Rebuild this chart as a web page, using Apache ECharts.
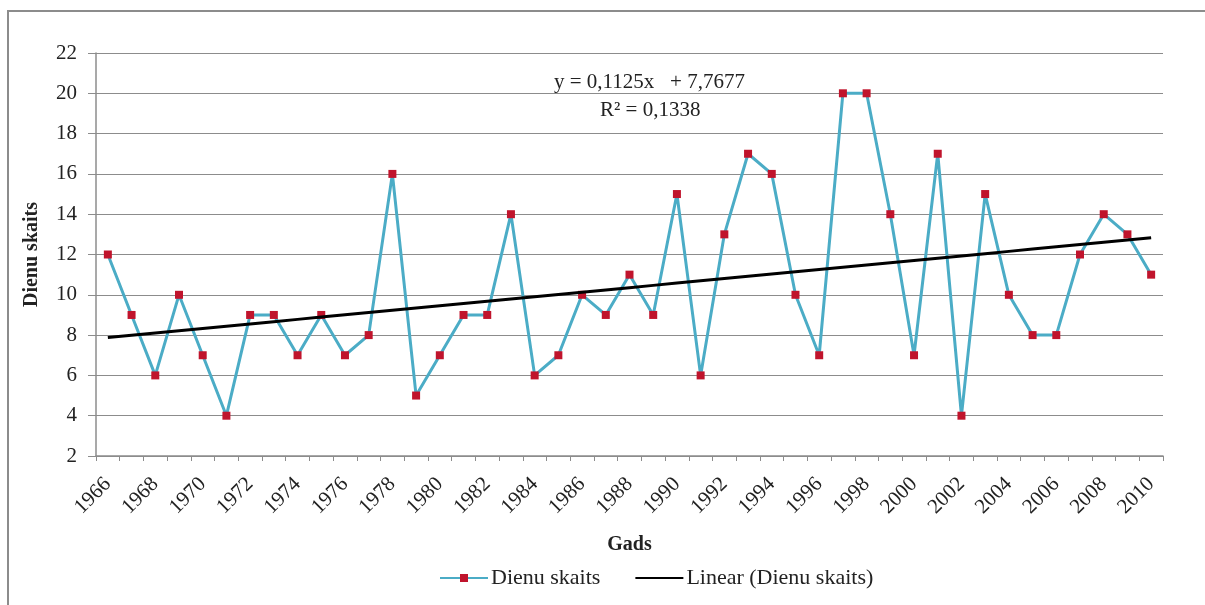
<!DOCTYPE html>
<html>
<head>
<meta charset="utf-8">
<script src="https://cdn.jsdelivr.net/npm/echarts@6/dist/echarts.min.js"></script>
<style>
  html, body { margin: 0; padding: 0; background: #fff; }
  #frame { position: absolute; left: 7px; top: 10px; width: 1198px; height: 595px;
           border-left: 2px solid #8c8c8c; border-top: 2px solid #8c8c8c; box-sizing: border-box; }
  #chart { position: absolute; left: 0; top: 0; width: 1205px; height: 605px; }
</style>
</head>
<body>
<div id="frame"></div>
<div id="chart"></div>
<script>
var years = [];
for (var y = 1966; y <= 2010; y++) { years.push(String(y)); }

var dienuSkaits = [12, 9, 6, 10, 7, 4, 9, 9, 7, 9,
                   7, 8, 16, 5, 7, 9, 9, 14, 6, 7,
                   10, 9, 11, 9, 15, 6, 13, 17, 16, 10,
                   7, 20, 20, 14, 7, 17, 4, 15, 10, 8,
                   8, 12, 14, 13, 11];

// trend line coefficients as printed on the chart
var slope = 0.1125;
var intercept = 7.7677;
var trend = dienuSkaits.map(function (v, i) { return +(slope * (i + 1) + intercept).toFixed(4); });

var font = 'Liberation Serif';
var chart = echarts.init(document.getElementById('chart'));

chart.setOption({
  animation: false,
  textStyle: { fontFamily: font },
  grid: { left: 96, right: 42, top: 53, bottom: 149, containLabel: false },
  graphic: [
    { type: 'text', left: 554, top: 72,
      style: { text: 'y = 0,1125x   + 7,7677', font: '21px "Liberation Serif"', fill: '#222' } },
    { type: 'text', left: 600, top: 100,
      style: { text: 'R² = 0,1338', font: '21px "Liberation Serif"', fill: '#222' } }
  ],
  legend: {
    bottom: 11, left: 434,
    itemWidth: 48, itemHeight: 10, itemGap: 34,
    textStyle: { fontFamily: font, fontSize: 22, color: '#222', padding: [0, 0, 0, -2] },
    data: [
      { name: 'Dienu skaits' },
      { name: 'Linear (Dienu skaits)', itemStyle: { opacity: 0 } }
    ]
  },
  xAxis: {
    type: 'category',
    data: years,
    boundaryGap: true,
    name: 'Gads',
    nameLocation: 'middle',
    nameGap: 79,
    nameTextStyle: { fontFamily: font, fontSize: 20, fontWeight: 'bold', color: '#222' },
    axisLine: { lineStyle: { color: '#8c8c8c', width: 1.5 } },
    axisTick: { show: true, length: 5, interval: 0, alignWithLabel: false, lineStyle: { color: '#8c8c8c' } },
    axisLabel: { interval: 1, rotate: 45, fontFamily: font, fontSize: 21, color: '#222', margin: 25 },
    splitLine: { show: false }
  },
  yAxis: {
    type: 'value',
    min: 2, max: 22, interval: 2,
    name: 'Dienu skaits',
    nameLocation: 'middle',
    nameGap: 54,
    nameTextStyle: { fontFamily: font, fontSize: 20, fontWeight: 'bold', color: '#222' },
    axisLine: { show: true, lineStyle: { color: '#8c8c8c', width: 1.5 } },
    axisTick: { show: true, length: 8, lineStyle: { color: '#8c8c8c' } },
    axisLabel: { fontFamily: font, fontSize: 21, color: '#222', margin: 19 },
    splitLine: { lineStyle: { color: '#8c8c8c', width: 1.2 } }
  },
  series: [
    {
      name: 'Dienu skaits',
      type: 'line',
      data: dienuSkaits,
      symbol: 'rect',
      symbolSize: 8,
      lineStyle: { color: '#4bacc6', width: 3 },
      itemStyle: { color: '#c0142c', borderWidth: 0 },
      z: 2
    },
    {
      name: 'Linear (Dienu skaits)',
      type: 'line',
      data: trend,
      symbol: 'none',
      lineStyle: { color: '#000', width: 3 },
      itemStyle: { color: '#000' },
      z: 3
    }
  ]
});
</script>
</body>
</html>
